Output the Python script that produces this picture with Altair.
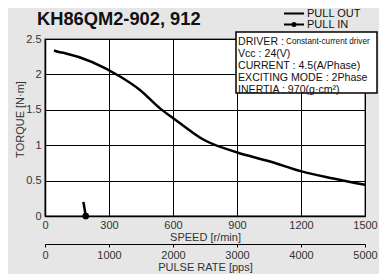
import altair as alt
import pandas as pd

# Pull-out torque curve
speed_out = [42, 60, 78, 94, 352, 445, 539, 601, 633, 742, 898, 1055, 1203, 1352, 1500]
torque_out = [2.34, 2.32, 2.31, 2.30, 1.97, 1.78, 1.52, 1.38, 1.31, 1.08, 0.90, 0.77, 0.63, 0.53, 0.44]
# Pull-in torque curve
speed_in = [180, 191]
torque_in = [0.20, 0.0]
# Secondary axis range
pulse_rate = [0, 5000]

speed_ticks = [0, 300, 600, 900, 1200, 1500]
torque_ticks = [0, 0.5, 1, 1.5, 2, 2.5]
pulse_ticks = [0, 1000, 2000, 3000, 4000, 5000]

title_text = "KH86QM2-902, 912"
legend_labels = ["PULL OUT", "PULL IN"]
info_left = ["DRIVER :", "Vcc : 24(V)", "CURRENT : 4.5(A/Phase)", "EXCITING MODE : 2Phase", "INERTIA : 970(g·cm²)"]
info_driver = "Constant-current driver"

FONT = "Liberation Sans"
W, H = 320, 177

df_out = pd.DataFrame({"speed": speed_out, "torque": torque_out})
df_in = pd.DataFrame({"speed": speed_in, "torque": torque_in})
df_pps = pd.DataFrame({"pps": pulse_rate})
one = pd.DataFrame({"a": [0]})

xscale = alt.Scale(domain=[0, 1500], nice=False, zero=False)
yscale = alt.Scale(domain=[0, 2.5], nice=False)

xaxis = alt.Axis(values=speed_ticks, format="d", title="SPEED [r/min]", grid=True, gridColor="#000",
                 gridWidth=1, ticks=False, labelPadding=3, titlePadding=1,
                 domainColor="#000", domainWidth=1.5, labelFont=FONT, titleFont=FONT,
                 labelFontSize=11, titleFontSize=11, labelColor="#333", titleColor="#333",
                 titleFontWeight="normal", labelFlush=False, labelOverlap=False)
yaxis = alt.Axis(values=torque_ticks, format="~g", title="TORQUE  [N·m]", grid=True, gridColor="#000",
                 gridWidth=1, ticks=False, labelPadding=4, titlePadding=0,
                 domainColor="#000", domainWidth=1.5, labelFont=FONT, titleFont=FONT,
                 labelFontSize=11, titleFontSize=11, labelColor="#333", titleColor="#333",
                 titleFontWeight="normal", labelFlush=False, labelOverlap=False, titleY=80)

X = alt.X("speed:Q", scale=xscale, axis=xaxis)
Y = alt.Y("torque:Q", scale=yscale, axis=yaxis)

out_line = alt.Chart(df_out).mark_line(color="#000", strokeWidth=2.5, interpolate="monotone").encode(x=X, y=Y)
in_line = alt.Chart(df_in).mark_line(color="#000", strokeWidth=2.5).encode(x=X, y=Y)
in_dot = alt.Chart(df_in.iloc[[1]]).mark_point(filled=True, color="#000", size=45, opacity=1).encode(x=X, y=Y)

layers = [out_line, in_line, in_dot]

# Info box
layers.append(alt.Chart(one).mark_rect(fill="white", stroke="#000", strokeWidth=1.5).encode(
    x=alt.value(191), x2=alt.value(332), y=alt.value(-7), y2=alt.value(54)
))
for i, t in enumerate(info_left):
    layers.append(alt.Chart(one).mark_text(align="left", baseline="middle", font=FONT, fontSize=10.6,
                                           color="#111", text=t).encode(
        x=alt.value(193), y=alt.value(3 + 12 * i)))
layers.append(alt.Chart(one).mark_text(align="left", baseline="middle", font=FONT, fontSize=8.2,
                                       color="#111", text=info_driver).encode(
    x=alt.value(241), y=alt.value(2.5)))

# Title
layers.append(alt.Chart(one).mark_text(align="left", baseline="middle", font=FONT, fontSize=18.3,
                                       fontWeight="bold", color="#111", text=title_text).encode(
    x=alt.value(-8), y=alt.value(-19)))

# Legend
for i, t in enumerate(legend_labels):
    yy = -25.5 + 11 * i
    layers.append(alt.Chart(one).mark_rule(color="#000", strokeWidth=2).encode(
        x=alt.value(239), x2=alt.value(259), y=alt.value(yy)))
    layers.append(alt.Chart(one).mark_text(align="left", baseline="middle", font=FONT, fontSize=11,
                                           color="#111", text=t).encode(
        x=alt.value(262), y=alt.value(yy)))
    if i == 1:
        layers.append(alt.Chart(one).mark_point(filled=True, color="#000", size=25, opacity=1).encode(
            x=alt.value(249), y=alt.value(yy)))

# Secondary axis: pulse rate
pps_layer = alt.Chart(df_pps).mark_point(opacity=0).encode(
    x=alt.X("pps:Q", scale=alt.Scale(domain=[0, 5000], nice=False),
            axis=alt.Axis(orient="bottom", offset=28, values=pulse_ticks, format="d",
                          title="PULSE RATE [pps]", grid=False, tickSize=3, tickColor="#000",
                          domainColor="#000", domainWidth=1, labelPadding=2, titlePadding=1,
                          labelFont=FONT, titleFont=FONT, labelFontSize=11, titleFontSize=11,
                          labelColor="#333", titleColor="#333", titleFontWeight="normal",
                          labelFlush=False, labelOverlap=False)),
    y=alt.value(0),
)

main = alt.layer(*layers)
chart = alt.layer(main, pps_layer).resolve_scale(x="independent").properties(
    width=W, height=H,
    autosize=alt.AutoSizeParams(type="none"),
    padding={"left": 37, "top": 31, "right": 14, "bottom": 58},
    background="#e6e6e6",
).configure_view(fill="white", stroke="#777", strokeWidth=1.5)

chart.save("out.html", embed_options={"renderer": "svg", "actions": False})
